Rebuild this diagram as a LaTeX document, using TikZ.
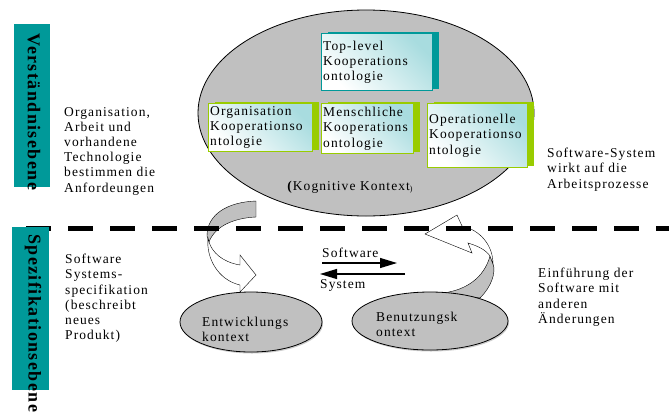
\documentclass[tikz,border=0pt]{standalone}
\usepackage{fontspec}
\setmainfont{Liberation Serif}[LetterSpace=8]
\newfontfamily\barfont{Liberation Serif Bold}[LetterSpace=8]
\usetikzlibrary{positioning,shapes.geometric,shadows,arrows.meta}
\definecolor{barteal}{HTML}{009999}
\definecolor{ontgreen}{HTML}{99CC00}
\definecolor{ontcyan}{HTML}{A8DCDF}
\definecolor{ctxgray}{HTML}{C0C0C0}
\tikzset{
	thick,
	my text/.style={align=left, inner sep=0pt, anchor=north west, font=\fontsize{13.5}{15.2}\selectfont},
	my ctx/.style={ellipse, draw, thick, fill=ctxgray, inner sep=0pt}, % grey context ellipses
	my flow/.style={line width=1.2pt, -{Triangle[length=17pt,width=10pt]}}
}
\begin{document}
\begin{tikzpicture}[x=1pt,y=-1pt]
	\tikzset{my box/.style = {rectangle, draw, line width=1.4pt, top color=ontcyan, bottom color=white, shading angle=-45, inner sep=1.5pt, align=left, anchor=north west, font=\fontsize{13.5}{15.2}\selectfont}}
	\tikzset{my top/.style = {my box, draw=barteal, general shadow={fill=barteal, shadow xshift=6pt, shadow yshift=2pt}}}
	\tikzset{my sub/.style = {my box, draw=ontgreen, general shadow={fill=ontgreen, shadow xshift=6pt, shadow yshift=2pt}}}
	\tikzset{my bar/.style = {rectangle, fill=barteal, inner sep=0pt, anchor=north west, minimum width=36pt, minimum height=163pt}}
	\tikzset{my level/.style = {rotate=-90, anchor=west, inner sep=0pt, font=\barfont\fontsize{18}{20}\selectfont}}
	\useasboundingbox (0,0) rectangle (669,416);
	% cognitive context
	\node[my ctx, minimum width=336pt, minimum height=206pt] (kog) at (366,113) {};
	\node[my top, text width=108pt, minimum height=57pt] (top) at (321,33) {Top-level\\Kooperations\\ontologie};
	\node[my sub, text width=101pt, minimum height=48pt] (org) at (208,103) {Organisation\\Kooperationso\\ntologie};
	\node[my sub, text width=89pt, minimum height=50pt] (mensch) at (321,103) {Menschliche\\Kooperations\\ontologie};
	\node[my sub, text width=97pt, minimum height=64pt] (oper) at (427,103) {Operationelle\\Kooperationso\\ntologie};
	\node[font=\fontsize{13.5}{15.2}\selectfont] (kogtxt) at (350,187) {\textbf{(}Kognitive Kontext\raisebox{-1pt}{\footnotesize)}};
	% curved block arrows
	\draw[fill=ctxgray] (256,201) -- (256,217) .. controls (234,218) and (215,226) .. (209,242) -- (207,236) .. controls (207,214) and (228,202) .. (256,201) -- cycle;
	\draw[fill=white, line join=miter] (208,238) .. controls (206,258) and (218,280) .. (240,285) -- (240,292) -- (256,275) -- (240,255) -- (240,265) .. controls (222,262) and (212,252) .. (209,242) -- cycle;
	\draw[fill=ctxgray] (490,256) .. controls (484,278) and (466,290) .. (443,293) -- (480,298) .. controls (492,286) and (496,272) .. (493,264) -- cycle;
	\draw[fill=white, line join=miter] (493,264) .. controls (493,245) and (480,230) .. (462,226) -- (457,215) -- (425,234) -- (472,253) -- (468,243) .. controls (478,246) and (486,250) .. (490,256) -- cycle;
	% development and usage context
	\node[my ctx, drop shadow={shadow xshift=1pt, shadow yshift=-1.5pt, opacity=0.4}, minimum width=142pt, minimum height=60pt] (entw) at (251,322) {};
	\node[my ctx, drop shadow={shadow xshift=1pt, shadow yshift=-1.5pt, opacity=0.4}, minimum width=156pt, minimum height=58pt] (benutz) at (430,321) {};
	\node[my text] (entwtxt) at (202,317) {Entwicklungs\\kontext};
	\node[my text] (benutztxt) at (376,312) {Benutzungsk\\ontext};
	\coordinate (sw1) at (322,263);
	\coordinate (sw2) at (397,263);
	\coordinate (sy1) at (405,274);
	\coordinate (sy2) at (320,274);
	\draw[my flow] (sw1) -- (sw2);
	\draw[my flow] (sy1) -- (sy2);
	\node[my text] (swtxt) at (322,248) {Software};
	\node[my text] (sytxt) at (320,279) {System};
	% level separator
	\coordinate (dl) at (26,228);
	\coordinate (dr) at (669,228);
	\draw[line width=5pt, dash pattern=on 25pt off 17pt] (dl) -- (dr);
	\node[my bar] (vbar) at (14,24) {};
	\node[my bar, minimum width=37pt] (sbar) at (12,227) {};
	\node[my level] (vtxt) at (34,33) {Verständnisebene};
	\node[my level] (stxt) at (33,234) {Spezifikationsebene};
	% side notes
	\node[my text] (n1) at (64,107) {Organisation,\\Arbeit und\\vorhandene\\Technologie\\bestimmen die\\Anfordeungen};
	\node[my text] (n2) at (547,148) {Software-System\\wirkt auf die\\Arbeitsprozesse};
	\node[my text] (n3) at (65,254) {Software\\Systems-\\specifikation\\(beschreibt\\neues\\Produkt)};
	\node[my text] (n4) at (538,268) {Einführung der\\Software mit\\anderen\\Änderungen};
\end{tikzpicture}
\end{document}
